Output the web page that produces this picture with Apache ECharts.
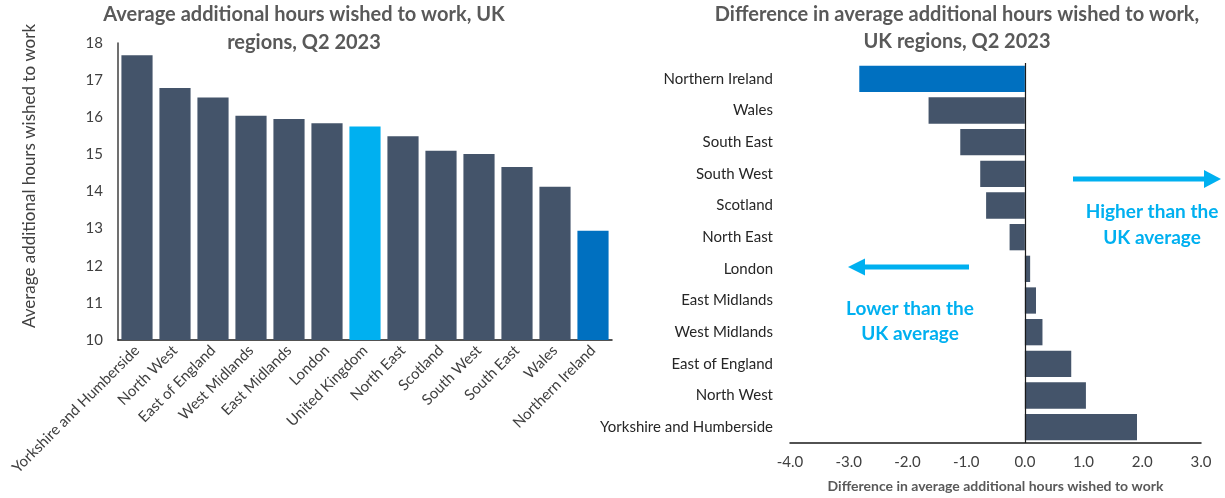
<!DOCTYPE html>
<html>
<head>
<meta charset="utf-8">
<script src="https://cdn.jsdelivr.net/npm/echarts@6/dist/echarts.min.js"></script>
<style>
  html, body { margin: 0; padding: 0; background: #ffffff; }
  #chart { width: 1225px; height: 498px; }
</style>
</head>
<body>
<div id="chart"></div>
<script>
// Average additional hours wished to work by region, Q2 2023
const regions = [
  'Yorkshire and Humberside', 'North West', 'East of England', 'West Midlands',
  'East Midlands', 'London', 'United Kingdom', 'North East', 'Scotland',
  'South West', 'South East', 'Wales', 'Northern Ireland'
];
const avgHours = [17.67, 16.79, 16.53, 16.04, 15.95, 15.84, 15.75, 15.49, 15.10, 15.01, 14.66, 14.13, 12.94];

// Difference from the UK average, listed top to bottom
const diffRegions = [
  'Northern Ireland', 'Wales', 'South East', 'South West', 'Scotland', 'North East',
  'London', 'East Midlands', 'West Midlands', 'East of England', 'North West',
  'Yorkshire and Humberside'
];
const diffHours = [-2.82, -1.64, -1.10, -0.76, -0.66, -0.26, 0.09, 0.19, 0.30, 0.79, 1.04, 1.91];

// Value axis ticks
const avgTicks = { min: 10, max: 18, step: 1 };
const diffTicks = { min: -4, max: 3, step: 1 };

const FONT = 'Lato, "Open Sans", sans-serif';
const SLATE = '#44546A';
const SKY = '#00B0F0';
const BLUE = '#0070C0';
const TITLE_GREY = '#595959';
const TEXT = '#404040';

function barColour(name) {
  if (name === 'United Kingdom') return SKY;
  if (name === 'Northern Ireland') return BLUE;
  return SLATE;
}

const chart = echarts.init(document.getElementById('chart'), null, { renderer: 'canvas' });

const option = {
  backgroundColor: '#ffffff',
  animation: false,
  textStyle: { fontFamily: FONT },
  title: [
    {
      text: 'Average additional hours wished to work, UK\nregions, Q2 2023',
      left: 304, top: 1, padding: 0, textAlign: 'center',
      textStyle: { fontFamily: FONT, fontSize: 20, fontWeight: 'bold', color: TITLE_GREY, lineHeight: 28 }
    },
    {
      text: 'Difference in average additional hours wished to work,\nUK regions, Q2 2023',
      left: 957, top: 1, padding: 0, textAlign: 'center',
      textStyle: { fontFamily: FONT, fontSize: 20, fontWeight: 'bold', color: TITLE_GREY, lineHeight: 27 }
    }
  ],
  grid: [
    { left: 118, top: 43, width: 494, height: 297 },
    { left: 790, top: 63, width: 411, height: 381 }
  ],
  xAxis: [
    {
      gridIndex: 0, type: 'category', data: regions,
      axisLine: { show: true, lineStyle: { color: '#1a1a1a', width: 1.5 } },
      axisTick: { show: false },
      axisLabel: { interval: 0, rotate: 45, fontSize: 15, color: TEXT, fontFamily: FONT, margin: 8 }
    },
    {
      gridIndex: 1, type: 'value',
      min: diffTicks.min, max: diffTicks.max, interval: diffTicks.step,
      name: 'Difference in average additional hours wished to work',
      nameLocation: 'middle', nameGap: 36,
      nameTextStyle: { fontFamily: FONT, fontSize: 14, fontWeight: 'bold', color: TITLE_GREY },
      axisLine: { show: true, onZero: false, lineStyle: { color: '#1a1a1a', width: 1.5 } },
      axisTick: { show: false },
      splitLine: { show: false },
      axisLabel: { fontSize: 15, color: TEXT, fontFamily: FONT, margin: 12, formatter: v => v.toFixed(1) }
    }
  ],
  yAxis: [
    {
      gridIndex: 0, type: 'value',
      min: avgTicks.min, max: avgTicks.max, interval: avgTicks.step,
      axisLine: { show: true, lineStyle: { color: '#404040', width: 1.5 } },
      axisTick: { show: false },
      splitLine: { show: false },
      axisLabel: { fontSize: 15, color: TEXT, fontFamily: FONT, margin: 15 }
    },
    {
      gridIndex: 1, type: 'category', data: diffRegions, inverse: true,
      axisLine: { show: false },
      axisTick: { show: false },
      axisLabel: { fontSize: 15, color: '#262626', fontFamily: FONT, margin: 17 }
    }
  ],
  series: [
    {
      type: 'bar', xAxisIndex: 0, yAxisIndex: 0,
      barCategoryGap: '18%',
      data: avgHours.map((v, i) => ({ value: v, itemStyle: { color: barColour(regions[i]) } }))
    },
    {
      type: 'bar', xAxisIndex: 1, yAxisIndex: 1,
      barCategoryGap: '17%',
      data: diffHours.map((v, i) => ({ value: v, itemStyle: { color: barColour(diffRegions[i]) } })),
      markLine: {
        silent: true, symbol: 'none', label: { show: false },
        lineStyle: { color: '#1a1a1a', width: 1.2, type: 'solid' },
        data: [{ xAxis: 0 }]
      }
    }
  ],
  graphic: [
    // vertical axis title of the left panel
    {
      type: 'text', x: 30, y: 176, rotation: Math.PI / 2,
      style: {
        text: 'Average additional hours wished to work',
        font: '17px ' + FONT, fill: TEXT, align: 'center', verticalAlign: 'middle'
      }
    },
    // right-pointing arrow
    { type: 'rect', shape: { x: 1073, y: 176.5, width: 134, height: 5 }, style: { fill: SKY } },
    { type: 'polygon', shape: { points: [[1204, 170], [1221, 179], [1204, 188]] }, style: { fill: SKY } },
    {
      type: 'text', x: 1152, y: 225,
      style: {
        text: 'Higher than the\nUK average', font: 'bold 19px ' + FONT, fill: SKY,
        align: 'center', verticalAlign: 'middle', lineHeight: 26
      }
    },
    // left-pointing arrow
    { type: 'rect', shape: { x: 862, y: 264.5, width: 107, height: 5 }, style: { fill: SKY } },
    { type: 'polygon', shape: { points: [[848, 267], [865, 258.5], [865, 275.5]] }, style: { fill: SKY } },
    {
      type: 'text', x: 910, y: 321,
      style: {
        text: 'Lower than the\nUK average', font: 'bold 19px ' + FONT, fill: SKY,
        align: 'center', verticalAlign: 'middle', lineHeight: 25
      }
    }
  ]
};

chart.setOption(option);
</script>
</body>
</html>
